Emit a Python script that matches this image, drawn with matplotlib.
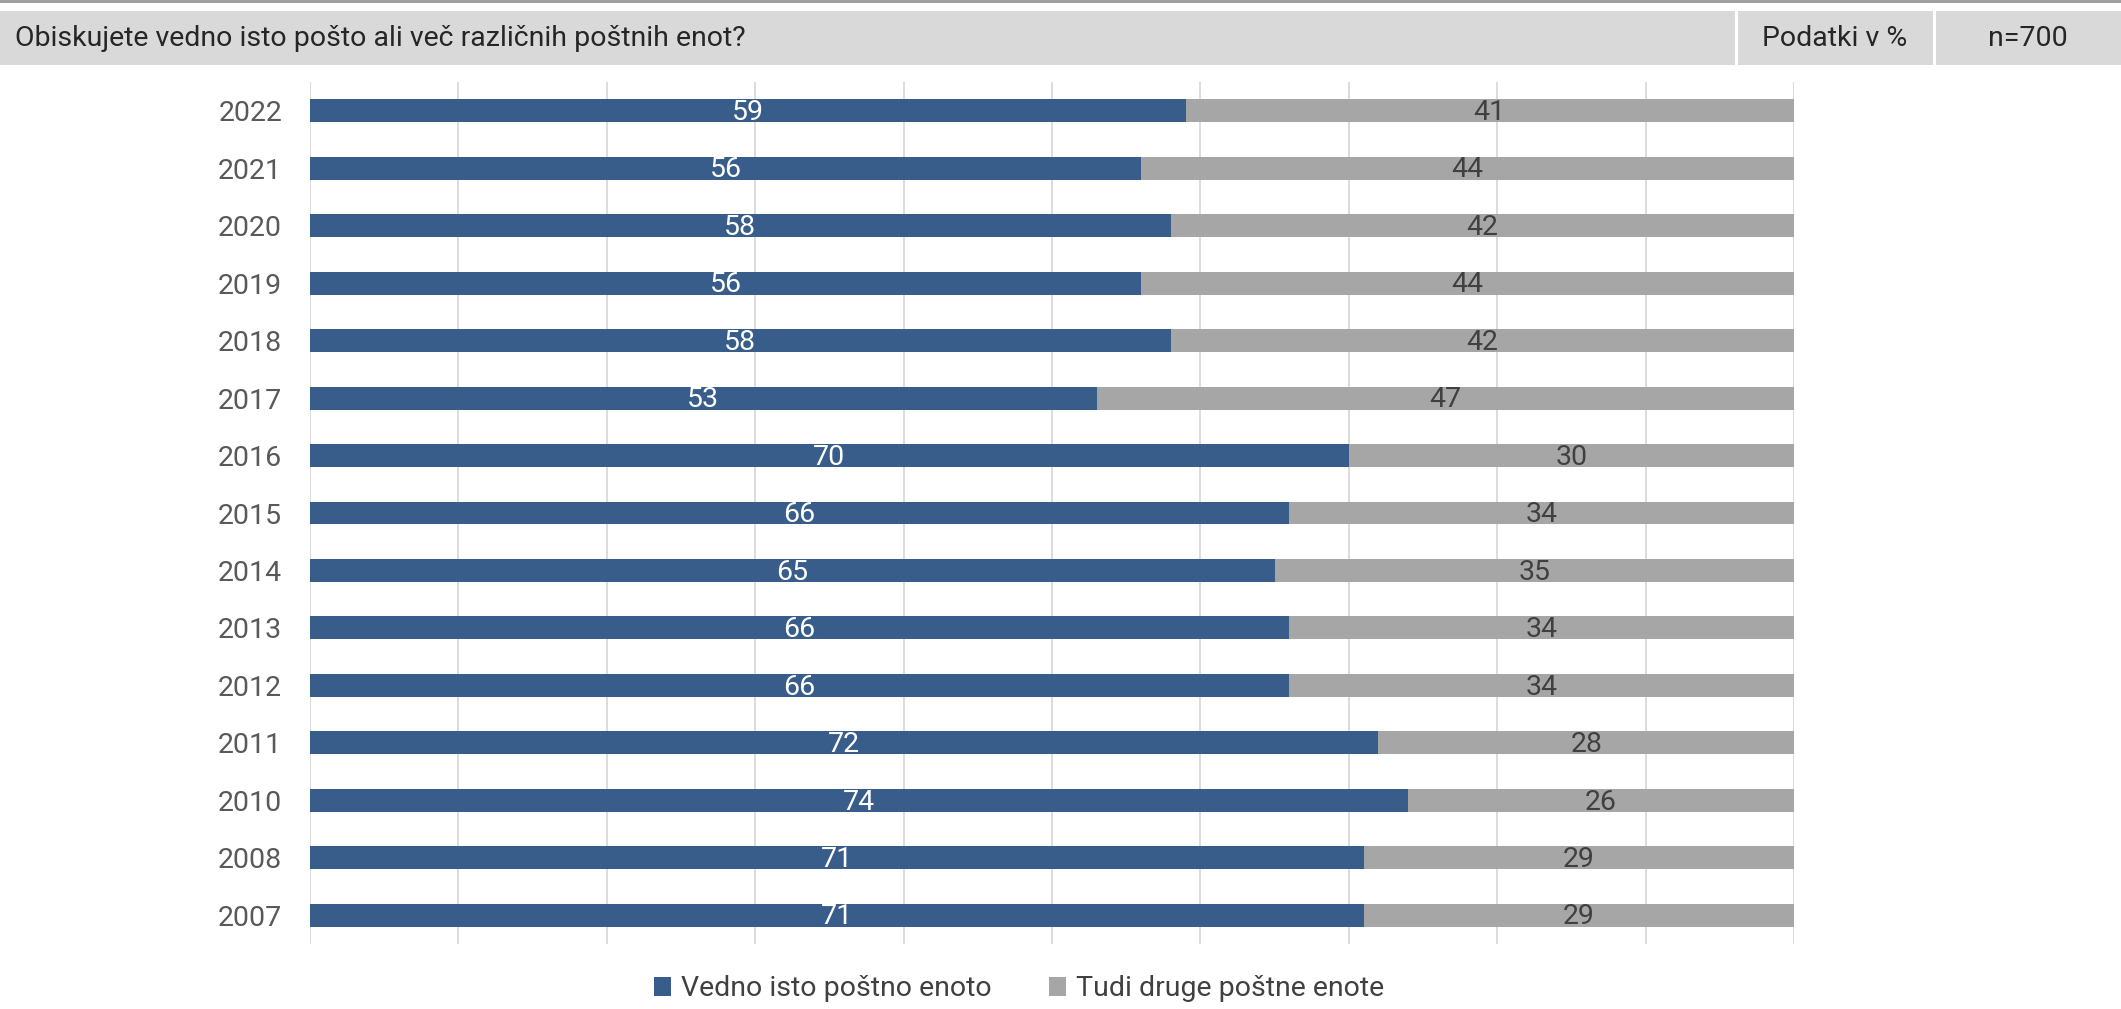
import matplotlib
matplotlib.use("Agg")
import matplotlib.pyplot as plt
from matplotlib.patches import Rectangle, Patch

plt.rcParams['font.family'] = ['Roboto', 'DejaVu Sans']

years = ["2022", "2021", "2020", "2019", "2018", "2017", "2016", "2015",
         "2014", "2013", "2012", "2011", "2010", "2008", "2007"]
same_unit = [59, 56, 58, 56, 58, 53, 70, 66, 65, 66, 66, 72, 74, 71, 71]
other_units = [41, 44, 42, 44, 42, 47, 30, 34, 35, 34, 34, 28, 26, 29, 29]
series_names = ["Vedno isto poštno enoto", "Tudi druge poštne enote"]
title = "Obiskujete vedno isto pošto ali več različnih poštnih enot?"
unit_note = "Podatki v %"
sample_note = "n=700"

BLUE = "#385d8a"
GREY = "#a6a6a6"
FS = 20.5

W, H = 2121, 1009
fig = plt.figure(figsize=(W / 100, H / 100), dpi=100)

# header strip
fig.patches.append(Rectangle((0, 1 - 3 / H), 1, 3 / H, transform=fig.transFigure,
                             facecolor="#a0a0a0", edgecolor="none"))
fig.patches.append(Rectangle((0, 1 - 65 / H), 1, 54 / H, transform=fig.transFigure,
                             facecolor="#d9d9d9", edgecolor="none"))
for xs in (1735, 1933):
    fig.patches.append(Rectangle((xs / W, 1 - 65 / H), 3 / W, 54 / H,
                                 transform=fig.transFigure,
                                 facecolor="white", edgecolor="none"))
hy = 1 - 39 / H
fig.text(15 / W, hy, title, ha="left", va="center", fontsize=FS, color="#262626")
fig.text(1835 / W, hy, unit_note, ha="center", va="center", fontsize=FS, color="#262626")
fig.text(2028 / W, hy, sample_note, ha="center", va="center", fontsize=FS, color="#262626")

ax = fig.add_axes([310 / W, 1 - 944 / H, (1794 - 310) / W, (944 - 82) / H])
pos = list(range(len(years)))
ax.barh(pos, same_unit, height=0.4, color=BLUE, zorder=3)
ax.barh(pos, other_units, left=same_unit, height=0.4, color=GREY, zorder=3)

for i, (a, b) in enumerate(zip(same_unit, other_units)):
    ax.text(a / 2, i + 0.03, str(a), ha="center", va="center", fontsize=FS,
            color="white", zorder=4)
    ax.text(a + b / 2, i + 0.03, str(b), ha="center", va="center", fontsize=FS,
            color="#404040", zorder=4)

ax.set_xlim(0, 100)
ax.set_ylim(len(years) - 0.5, -0.5)
ax.set_xticks(range(0, 101, 10))
ax.xaxis.grid(True, color="#d9d9d9", linewidth=1.3, zorder=0)
ax.tick_params(axis="x", length=0, labelbottom=False)
ax.set_yticks(pos)
ax.set_yticklabels(years, fontsize=FS, color="#595959")
ax.tick_params(axis="y", length=0, pad=20)
for s in ax.spines.values():
    s.set_visible(False)

handles = [Patch(facecolor=BLUE, edgecolor="none"), Patch(facecolor=GREY, edgecolor="none")]
leg = fig.legend(handles, series_names, loc="center", bbox_to_anchor=(1019 / W, 1 - 989 / H),
                 ncol=2, frameon=False, fontsize=FS, handlelength=0.6, handleheight=0.6,
                 handletextpad=0.35, columnspacing=2.0, borderaxespad=0)
for t in leg.get_texts():
    t.set_color("#404040")

fig.savefig("out.png", dpi=100)
